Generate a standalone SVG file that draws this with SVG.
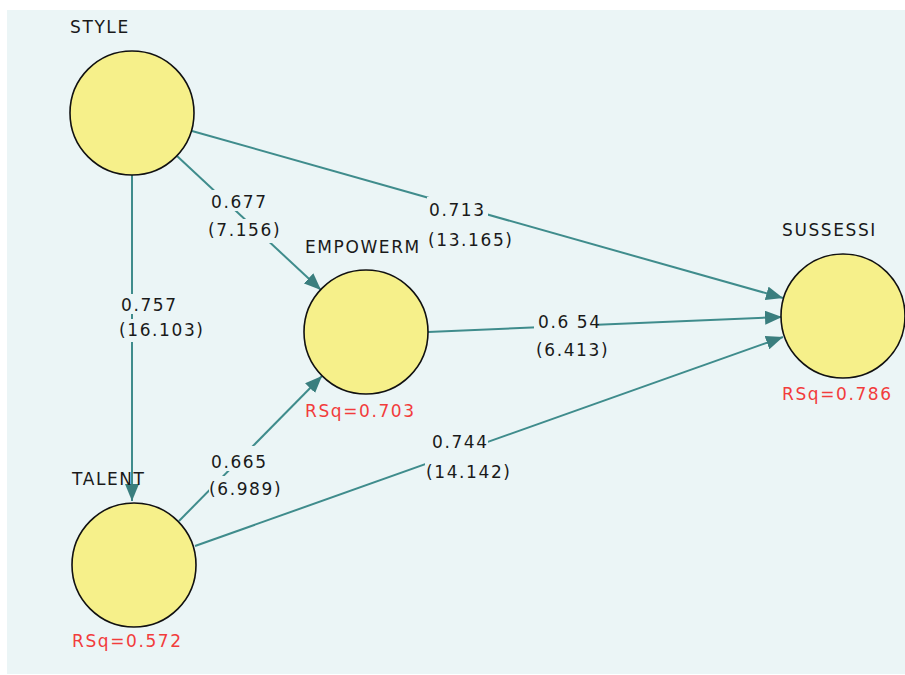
<svg xmlns="http://www.w3.org/2000/svg" width="905" height="675" viewBox="0 0 905 675">
<style>
.bg{fill:#EBF5F6}
.node circle{fill:#F6F08A;stroke:#111;stroke-width:1.6}
.lbl{font-family:"DejaVu Sans",Verdana,sans-serif;font-size:17px;letter-spacing:1.6px;fill:#1a1a1a}
.rsq{font-family:"DejaVu Sans",Verdana,sans-serif;font-size:17px;letter-spacing:1.6px;fill:#F23C3C}
.edge{stroke:#3F8C8C;stroke-width:2;fill:none;marker-end:url(#arr)}
.mask{fill:#EBF5F6}
</style>
<defs>
<marker id="arr" markerUnits="userSpaceOnUse" markerWidth="18" markerHeight="14" refX="17" refY="7" orient="auto">
<path d="M0,0 L17,7 L0,14 z" fill="#3A7E7E"/>
</marker>
</defs>
<rect x="0" y="0" width="905" height="675" fill="#ffffff"/>
<rect class="bg" x="7" y="10" width="898" height="664"/>
<g id="connectors">
<line class="edge" x1="132" y1="175" x2="132" y2="501"/>
<line class="edge" x1="177" y1="156" x2="321" y2="290"/>
<line class="edge" x1="192" y1="131" x2="783" y2="298"/>
<line class="edge" x1="428" y1="332" x2="782" y2="317"/>
<line class="edge" x1="179" y1="521" x2="322" y2="376"/>
<line class="edge" x1="195" y1="546" x2="783" y2="337"/>
</g>
<g id="edge-labels">
<rect class="mask" x="118" y="294" width="46" height="20"/>
<rect class="mask" x="118" y="319" width="88" height="23"/>
<text class="lbl" x="121" y="311">0.757</text>
<text class="lbl" x="119" y="336">(16.103)</text>
<rect class="mask" x="208" y="190" width="58" height="21"/>
<rect class="mask" x="206" y="219" width="76" height="24"/>
<text class="lbl" x="211" y="208">0.677</text>
<text class="lbl" x="208" y="236">(7.156)</text>
<rect class="mask" x="427" y="197" width="61" height="22"/>
<text class="lbl" x="429" y="216">0.713</text>
<text class="lbl" x="428" y="246">(13.165)</text>
<rect class="mask" x="534" y="312" width="63" height="19"/>
<text class="lbl" x="538" y="328">0.6 54</text>
<text class="lbl" x="536" y="356">(6.413)</text>
<rect class="mask" x="209" y="446" width="57" height="25"/>
<rect class="mask" x="209" y="476" width="76" height="24"/>
<text class="lbl" x="211" y="468">0.665</text>
<text class="lbl" x="209" y="495">(6.989)</text>
<rect class="mask" x="429" y="432" width="59" height="19"/>
<rect class="mask" x="425" y="451" width="88" height="32"/>
<text class="lbl" x="432" y="448">0.744</text>
<text class="lbl" x="426" y="478">(14.142)</text>
</g>
<g id="STYLE" class="node">
<circle cx="132" cy="113" r="62"/>
<text class="lbl" x="70" y="33">STYLE</text>
</g>
<g id="EMPOWERM" class="node">
<circle cx="366" cy="332" r="62"/>
<text class="lbl" x="305" y="253">EMPOWERM</text>
<text class="rsq" x="305" y="417">RSq=0.703</text>
</g>
<g id="SUSSESSI" class="node">
<circle cx="843" cy="316" r="62"/>
<text class="lbl" x="782" y="236">SUSSESSI</text>
<text class="rsq" x="782" y="400">RSq=0.786</text>
</g>
<g id="TALENT" class="node">
<circle cx="134" cy="565" r="62"/>
<text class="lbl" x="72" y="485">TALENT</text>
<text class="rsq" x="72" y="647">RSq=0.572</text>
</g>
</svg>
